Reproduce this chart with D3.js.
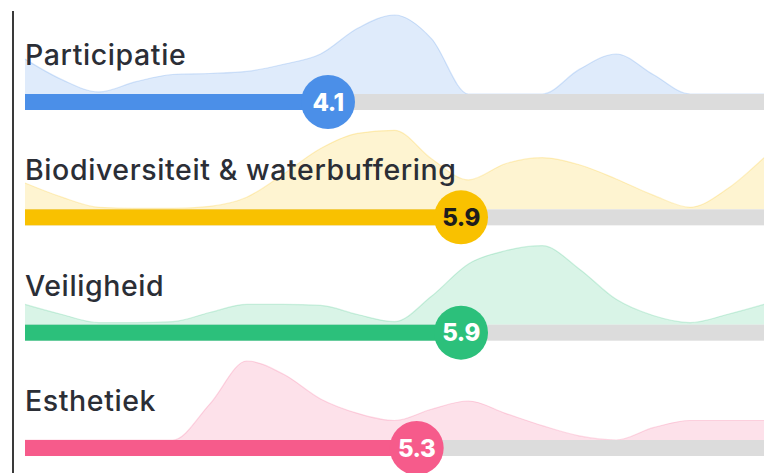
<!DOCTYPE html>
<html>
<head>
<meta charset="utf-8">
<script src="https://cdn.jsdelivr.net/npm/d3@7"></script>
<style>
  html, body { margin: 0; padding: 0; background: #fff; }
  svg { display: block; }
</style>
</head>
<body>
<svg id="chart" width="781" height="473"></svg>
<script>
// ---- data ----
const categories = ["Participatie", "Biodiversiteit & waterbuffering", "Veiligheid", "Esthetiek"];
const scores = [4.1, 5.9, 5.9, 5.3];
const scoreLabels = ["4.1", "5.9", "5.9", "5.3"];
const colors = ["#4b8fe8", "#f9c100", "#2cc07b", "#f65b8b"];
const textColors = ["#ffffff", "#1d1d1d", "#ffffff", "#ffffff"];
// distribution samples at score 0, 0.5, 1, ... 10 (relative density)
const densityGrid = d3.range(0, 10.01, 0.5);
const densParticipatie = [34, 14, 2, 12, 19, 20, 22, 29, 39, 64, 77, 54, 0, 0, 0, 24, 39, 19, 0, 0, 0];
const densBiodiversiteit = [26, 12, 2, 1, 1, 3, 12, 35, 60, 75, 78, 50, 29, 45, 51, 44, 30, 14, 2, 20, 51];
const densVeiligheid = [20, 10, 2, 2, 3, 12, 20, 20, 19, 10, 3, 28, 60, 73, 78, 55, 25, 9, 2, 10, 20];
const densEsthetiek = [0, 0, 0, 0, 0, 35, 77, 64, 40, 26, 19, 30, 38, 26, 14, 4, 0, 12, 19, 19, 19];
const densities = [densParticipatie, densBiodiversiteit, densVeiligheid, densEsthetiek];

// ---- layout ----
const svg = d3.select("#chart");
const x = d3.scaleLinear().domain([0, 10]).range([25, 764]);
const rowY = d3.scaleLinear().domain([0, 3]).range([94, 440]); // bar top
const barH = 16;
const areaH = 79;
const r = 27;

svg.append("line")
  .attr("x1", 13).attr("x2", 13).attr("y1", 11).attr("y2", 473)
  .attr("stroke", "#3a3a3a").attr("stroke-width", 2);

categories.forEach((cat, i) => {
  const top = rowY(i);
  const g = svg.append("g");
  const maxD = d3.max(densities[i]);
  const yD = d3.scaleLinear().domain([0, maxD]).range([top, top - areaH]);
  const pts = densities[i].map((d, j) => [densityGrid[j], d]);
  const area = d3.area()
    .x(d => x(d[0])).y0(top).y1(d => yD(d[1]))
    .curve(d3.curveMonotoneX);
  const line = d3.line()
    .x(d => x(d[0])).y(d => yD(d[1]))
    .curve(d3.curveMonotoneX);
  g.append("path").attr("d", area(pts))
    .attr("fill", colors[i]).attr("fill-opacity", 0.18);
  g.append("path").attr("d", line(pts))
    .attr("fill", "none").attr("stroke", colors[i]).attr("stroke-opacity", 0.22).attr("stroke-width", 1.2);

  g.append("text")
    .attr("x", 25).attr("y", top - 29)
    .attr("font-family", "Inter, 'Noto Sans', sans-serif")
    .attr("font-weight", 500)
    .attr("font-size", 28.5)
    .attr("letter-spacing", 0.6)
    .attr("fill", "#2b2e36")
    .text(cat);

  g.append("rect")
    .attr("x", x(0)).attr("y", top).attr("width", x(10) - x(0)).attr("height", barH)
    .attr("fill", "#dcdcdc");
  g.append("rect")
    .attr("x", x(0)).attr("y", top).attr("width", x(scores[i]) - x(0)).attr("height", barH)
    .attr("fill", colors[i]);
  g.append("circle")
    .attr("cx", x(scores[i])).attr("cy", top + barH / 2).attr("r", r)
    .attr("fill", colors[i]);
  g.append("text")
    .attr("x", x(scores[i])).attr("y", top + barH / 2 + 8.5)
    .attr("text-anchor", "middle")
    .attr("font-family", "Inter, 'Noto Sans', sans-serif")
    .attr("font-weight", 800)
    .attr("font-size", 24)
    .attr("letter-spacing", -0.5)
    .attr("fill", textColors[i])
    .text(scoreLabels[i]);
});
</script>
</body>
</html>
